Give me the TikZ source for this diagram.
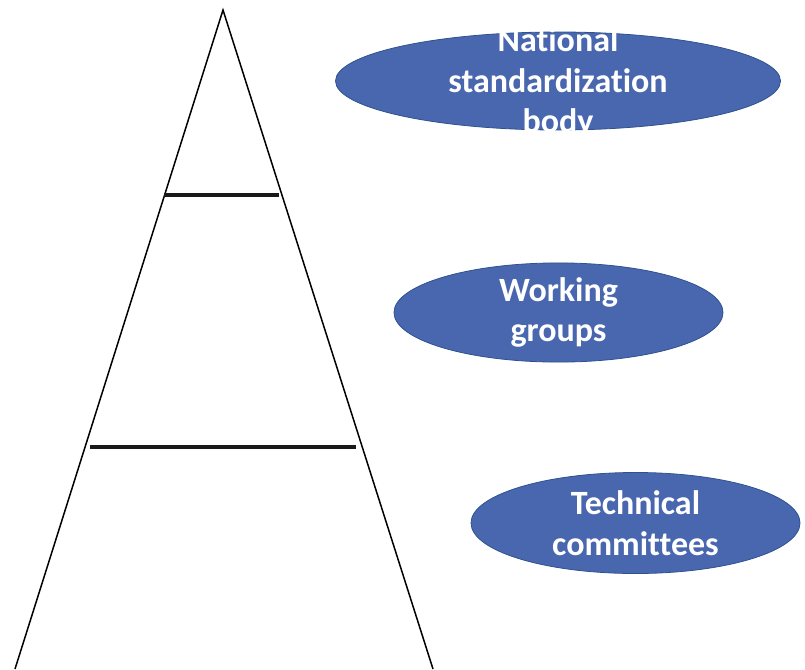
\documentclass[tikz,border=0pt]{standalone}
\usepackage{fontspec}
\setmainfont[Ligatures={NoCommon}]{Carlito}
\usetikzlibrary{shapes.geometric}
\definecolor{PyrBlue}{RGB}{73,103,174}
\definecolor{PyrEdge}{RGB}{47,82,143}
\tikzset{
  pyr/oval/.style={
    ellipse,
    draw=PyrEdge,
    line width=0.8pt,
    fill=PyrBlue,
    align=center,
    text=white,
    inner sep=0pt,
    font=\fontsize{34}{40.5}\selectfont\bfseries
  },
  pyr/label/.style={align=center, text=white, inner sep=0pt, font=\fontsize{34}{40.5}\selectfont\bfseries},
  pyr/side/.style={draw=black, line width=1.5pt},
  pyr/bar/.style={draw=black!90, line width=3.2pt}
}
\begin{document}
\begin{tikzpicture}[x=1pt,y=-1pt]
  \useasboundingbox (0,0) rectangle (805,669);
  \clip (0,0) rectangle (805,669);
  % pyramid
  \coordinate (apex) at (223,10);
  \coordinate (baseL) at (15,669);
  \coordinate (baseR) at (433,669);
  \draw[pyr/side] (baseL) -- (apex) -- (baseR);
  \coordinate (topbarL) at (164,195);
  \coordinate (topbarR) at (279,195);
  \coordinate (lowbarL) at (90,447);
  \coordinate (lowbarR) at (356,447);
  \draw[pyr/bar] (topbarL) -- (topbarR);
  \draw[pyr/bar] (lowbarL) -- (lowbarR);
  % levels
  \node[pyr/oval,minimum width=445,minimum height=98] (nsb) at (558,81) {};
  \begin{scope}
    \clip (330,28) rectangle (790,132);
    \node[pyr/label] (nsbtext) at (558,83) {National\\standardization\\body};
  \end{scope}
  \node[pyr/oval,minimum width=329,minimum height=99] (wg) at (558.5,312.5) {Working\\groups};
  \node[pyr/oval,minimum width=329,minimum height=101] (tc) at (635.5,523) {Technical\\committees};
\end{tikzpicture}
\end{document}
